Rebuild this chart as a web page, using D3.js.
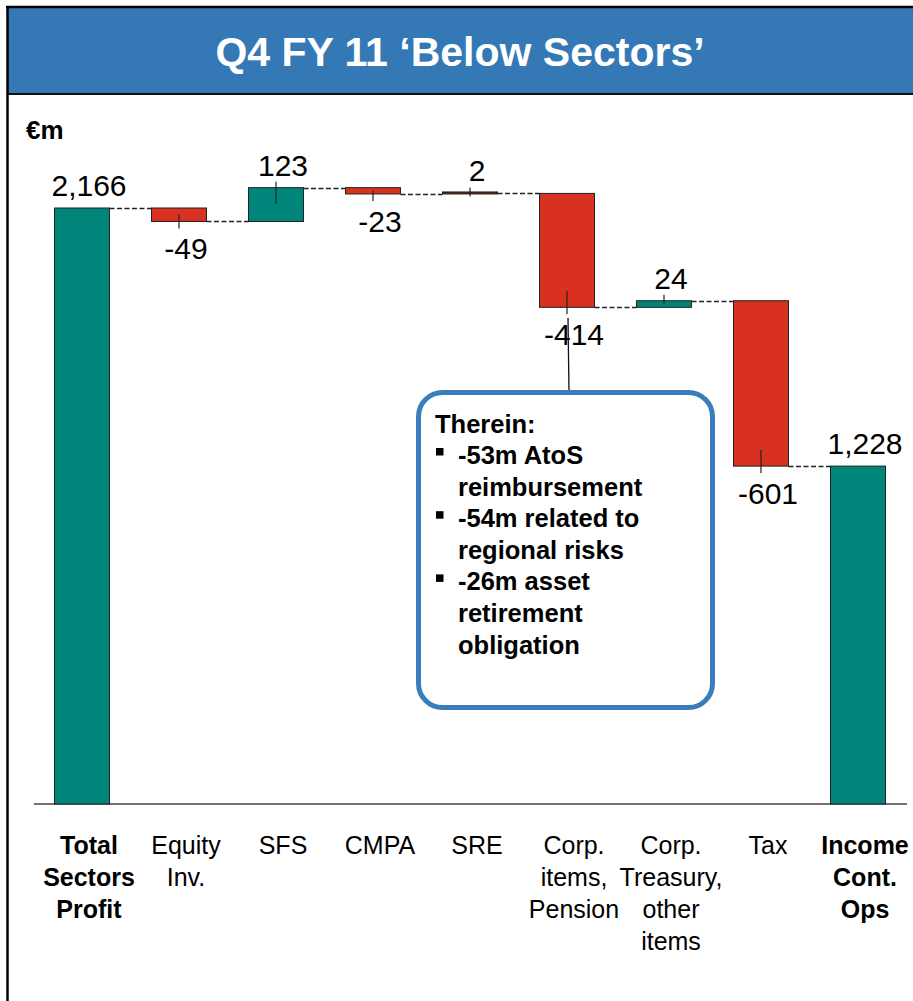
<!DOCTYPE html>
<meta charset="utf-8">
<html>
<head><title>Q4 FY 11 Below Sectors</title>
    <script src="https://cdn.jsdelivr.net/npm/d3@7"></script>
    <style>
        body { margin: 0; background: #fff; }
        text { font-family: "Liberation Sans", Arial, sans-serif; }
        .bar { stroke: #222; stroke-width: 1; }
        .connector { stroke: #222; stroke-width: 1.5; stroke-dasharray: 5,2.5; fill: none; }
        .tick { stroke: #222; stroke-width: 1.2; }
        .valueLabel { font-size: 30px; fill: #000; }
        .catLabel { font-size: 25px; fill: #000; }
        .boxText { font-size: 25.5px; font-weight: bold; fill: #000; }
    </style>
</head>
<body>
<div id="chart"></div>
<script>

    var W = 913, H = 1001;

    // chart data
    var categories = ["Total Sectors Profit", "Equity Inv.", "SFS", "CMPA", "SRE",
        "Corp. items, Pension", "Corp. Treasury, other items", "Tax", "Income Cont. Ops"];
    var categoryLines = [["Total", "Sectors", "Profit"], ["Equity", "Inv."], ["SFS"], ["CMPA"], ["SRE"],
        ["Corp.", "items,", "Pension"], ["Corp.", "Treasury,", "other", "items"], ["Tax"], ["Income", "Cont.", "Ops"]];
    var boldCategory = [true, false, false, false, false, false, false, false, true];
    var values = [2166, -49, 123, -23, 2, -414, 24, -601, 1228];
    var valueLabels = ["2,166", "-49", "123", "-23", "2", "-414", "24", "-601", "1,228"];
    var barKinds = ["total", "down", "up", "down", "flat", "down", "up", "down", "total"];
    var calloutLines = ["-53m AtoS", "reimbursement", "-54m related to", "regional risks",
        "-26m asset", "retirement", "obligation"];
    var calloutBullet = [true, false, true, false, true, false, false];

    var kindColor = d3.scaleOrdinal()
        .domain(["total", "up", "down", "flat"])
        .range(["#00857b", "#00857b", "#d9311f", "#6e1d14"]);

    // waterfall: compute start/end of each bar
    var bars = [];
    var running = 0;
    values.forEach(function(v, i) {
        var start, end;
        if (barKinds[i] === "total") { start = 0; end = v; running = v; }
        else { start = running; end = running + v; running = end; }
        bars.push({cat: categories[i], value: v, start: start, end: end, kind: barKinds[i], label: valueLabels[i], i: i});
    });

    var svg = d3.select("#chart").append("svg")
        .attr("width", W).attr("height", H);

    // frame + title bar
    svg.append("rect").attr("x", 7).attr("y", 7).attr("width", W).attr("height", 87)
        .attr("fill", "#3479b5");
    svg.append("line").attr("x1", 6).attr("x2", W).attr("y1", 7).attr("y2", 7)
        .attr("stroke", "#000").attr("stroke-width", 2.5);
    svg.append("line").attr("x1", 7).attr("x2", W).attr("y1", 94).attr("y2", 94)
        .attr("stroke", "#111").attr("stroke-width", 2);
    svg.append("line").attr("x1", 7.5).attr("x2", 7.5).attr("y1", 6).attr("y2", H)
        .attr("stroke", "#000").attr("stroke-width", 2.5);

    svg.append("text")
        .attr("x", 460).attr("y", 66)
        .attr("text-anchor", "middle")
        .style("font-size", "41px").style("font-weight", "bold").attr("fill", "#fff")
        .text("Q4 FY 11 \u2018Below Sectors\u2019");

    svg.append("text")
        .attr("x", 26).attr("y", 139)
        .style("font-size", "26px").style("font-weight", "bold")
        .text("\u20acm");

    // scales
    var x = d3.scalePoint().domain(categories).range([82, 858]);
    var barW = 55;
    var y = d3.scaleLinear().domain([0, 2166]).range([804, 208]);

    // baseline
    svg.append("line").attr("x1", 34).attr("x2", 907).attr("y1", y(0)).attr("y2", y(0))
        .attr("stroke", "#444").attr("stroke-width", 1.5);

    // connectors
    svg.selectAll(".connector").data(bars.slice(0, -1)).enter()
        .append("line").attr("class", "connector")
        .attr("x1", function(d) { return x(d.cat) + barW / 2; })
        .attr("x2", function(d) { return x(categories[d.i + 1]) - barW / 2; })
        .attr("y1", function(d) { return Math.round(y(d.end)) + 0.5; })
        .attr("y2", function(d) { return Math.round(y(d.end)) + 0.5; });

    // bars
    svg.selectAll(".bar").data(bars).enter()
        .append("rect").attr("class", "bar")
        .attr("x", function(d) { return x(d.cat) - barW / 2; })
        .attr("width", barW)
        .attr("y", function(d) {
            var top = y(Math.max(d.start, d.end)), bot = y(Math.min(d.start, d.end));
            return bot - top < 2 ? bot - 2 : top;
        })
        .attr("height", function(d) { return Math.max(2, Math.abs(y(d.start) - y(d.end))); })
        .attr("fill", function(d) { return kindColor(d.kind); });

    // little ticks on delta bars
    svg.selectAll(".tick").data(bars.filter(function(d) { return d.kind !== "total"; })).enter()
        .append("line").attr("class", "tick")
        .attr("x1", function(d) { return x(d.cat); })
        .attr("x2", function(d) { return x(d.cat); })
        .attr("y1", function(d) {
            var h = Math.abs(y(d.start) - y(d.end));
            var inner = Math.min(16, Math.max(3, h / 2));
            return d.value < 0 ? y(d.end) - inner : y(d.end) + inner;
        })
        .attr("y2", function(d) { return d.value < 0 ? y(d.end) + 7 : y(d.end) - 6; });

    // value labels
    svg.selectAll(".valueLabel").data(bars).enter()
        .append("text").attr("class", "valueLabel")
        .attr("text-anchor", "middle")
        .attr("x", function(d) { return x(d.cat) + 7; })
        .attr("y", function(d) {
            return d.value < 0 ? y(d.end) + 38 : y(d.end) - 12;
        })
        .text(function(d) { return d.label; });

    // category labels
    var cats = svg.selectAll(".catLabel").data(categories).enter()
        .append("text").attr("class", "catLabel")
        .attr("text-anchor", "middle")
        .style("font-weight", function(d, i) { return boldCategory[i] ? "bold" : "normal"; })
        .attr("y", 854);
    cats.selectAll("tspan").data(function(d, i) { return categoryLines[i].map(function(s) { return {s: s, c: d}; }); })
        .enter().append("tspan")
        .attr("x", function(d) { return x(d.c) + 7; })
        .attr("dy", function(d, j) { return j === 0 ? 0 : 32; })
        .text(function(d) { return d.s; });

    // callout for Corp. items
    var cx = x(categories[5]) + 1;
    svg.append("line").attr("x1", cx).attr("x2", cx + 1).attr("y1", 318).attr("y2", 393)
        .attr("stroke", "#111").attr("stroke-width", 1.3);
    svg.append("rect")
        .attr("x", 418.5).attr("y", 392.5).attr("width", 294).attr("height", 315)
        .attr("rx", 24).attr("ry", 24)
        .attr("fill", "#fff").attr("stroke", "#3a7dbb").attr("stroke-width", 5);
    svg.append("text").attr("class", "boxText").attr("x", 435).attr("y", 433).text("Therein:");
    calloutLines.forEach(function(s, i) {
        var ly = 464 + i * 31.6;
        if (calloutBullet[i]) {
            svg.append("rect").attr("x", 436).attr("y", ly - 16).attr("width", 7.5).attr("height", 7.5).attr("fill", "#000");
        }
        svg.append("text").attr("class", "boxText").attr("x", 458).attr("y", ly).text(s);
    });

</script>
</body>
</html>
